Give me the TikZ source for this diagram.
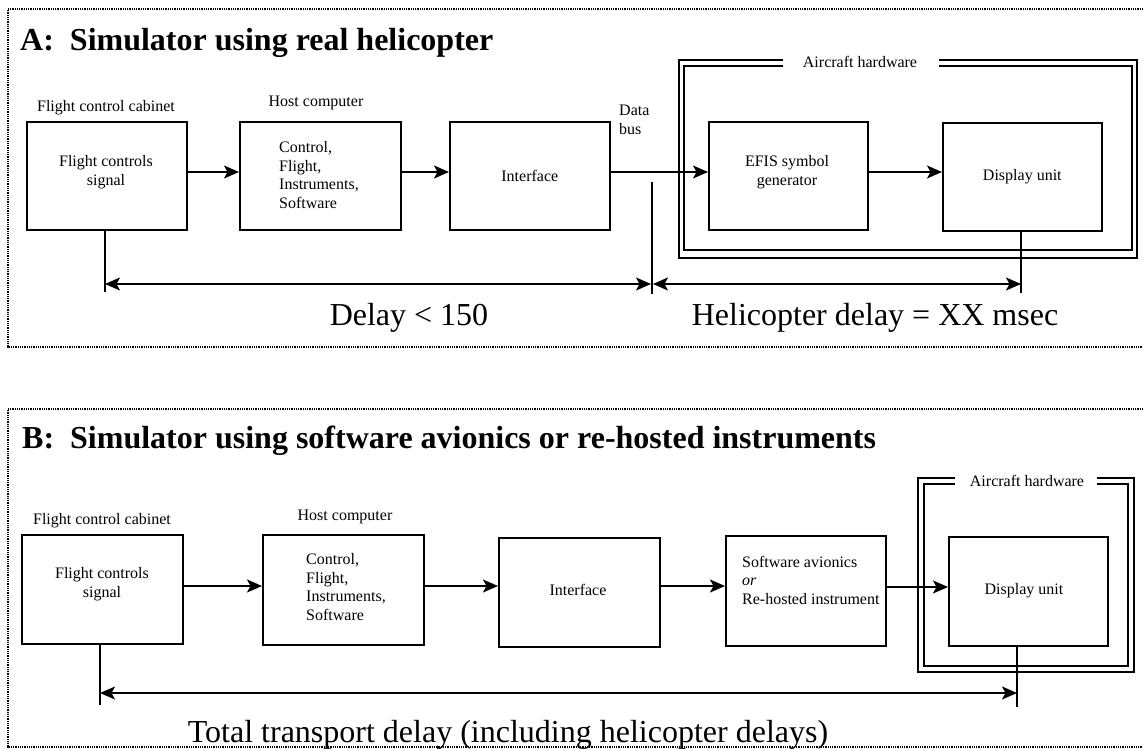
\documentclass[tikz,border=0pt]{standalone}
\usepackage{fontspec}
\setmainfont{Liberation Serif}
\usetikzlibrary{arrows.meta}
\begin{document}
\begin{tikzpicture}[x=1pt,y=-1pt,
  blk/.style={draw,line width=1.6pt,rectangle,inner sep=0pt,anchor=north west},
  lbl/.style={font=\fontsize{16}{18.5}\selectfont,inner sep=0pt},
  title/.style={font=\fontsize{32}{36}\selectfont\bfseries,inner sep=0pt,anchor=base west},
  big/.style={font=\fontsize{32}{36}\selectfont,inner sep=0pt,anchor=base},
  conn/.style={line width=1.5pt,-{Stealth[length=15pt,width=13pt,inset=3.5pt]}},
  dim/.style={line width=1.5pt,{Stealth[length=15pt,width=13pt,inset=3.5pt]}-{Stealth[length=15pt,width=13pt,inset=3.5pt]}},
  tick/.style={line width=1.3pt},
  frame/.style={line width=1.6pt},
  border/.style={line width=1.5pt,dash pattern=on 1pt off 0.8pt}
]
\useasboundingbox (0,0) rectangle (1143,749);

% ---------------- Panel A ----------------
\draw[border] (1143,9) -- (8,9) -- (8,347) -- (1143,347);
\node[title] (tA) at (20,51) {A:\ \ Simulator using real helicopter};

\node[blk,minimum width=160pt,minimum height=108pt] (fA) at (26,121) {};
\node[lbl] (fAt) at (106,108) {Flight control cabinet};
\node[lbl,align=center] (fAi) at (106,172) {Flight controls\\signal};

\node[blk,minimum width=161pt,minimum height=108pt] (hA) at (239,121) {};
\node[lbl] (hAt) at (316,103) {Host computer};
\node[lbl,align=left,anchor=west] (hAi) at (279,175) {Control,\\Flight,\\Instruments,\\Software};

\node[blk,minimum width=160pt,minimum height=108pt] (iA) at (449,121) {};
\node[lbl] (iAi) at (iA.center) {Interface};
\node[lbl,align=left,anchor=north west] (dbA) at (619,105) {Data\\bus};

\node[blk,minimum width=159pt,minimum height=108pt] (eA) at (708,121) {};
\node[lbl,align=center] (eAi) at (787,172) {EFIS symbol\\generator};

\node[blk,minimum width=159pt,minimum height=108pt] (dA) at (942,122) {};
\node[lbl] (dAi) at (dA.center) {Display unit};

% aircraft hardware frame A
\draw[frame] (783,60) -- (679,60) -- (679,258) -- (1137,258) -- (1137,60) -- (939,60);
\draw[frame] (783,66) -- (684,66) -- (684,250) -- (1132,250) -- (1132,66) -- (939,66);
\node[lbl] (ahA) at (860,62) {Aircraft hardware};

\draw[conn] (fA.east |- 0,172) -- (hA.west |- 0,172);
\draw[conn] (hA.east |- 0,172) -- (iA.west |- 0,172);
\draw[conn] (iA.east |- 0,172) -- (eA.west |- 0,172);
\draw[conn] (eA.east |- 0,172) -- (dA.west |- 0,172);

\coordinate (a1) at (105,292);
\coordinate (a2t) at (652,182);
\coordinate (a2) at (652,294);
\coordinate (a3) at (1021,293);
\draw[tick] (fA.south -| a1) -- (a1);
\draw[tick] (a2t) -- (a2);
\draw[tick] (dA.south -| a3) -- (a3);
\draw[dim] (105,284) -- (651,284);
\draw[dim] (653,284) -- (1021,284);

\node[big] (dl) at (409,325) {Delay < 150};
\node[big] (hd) at (875,325) {Helicopter delay = XX msec};

% ---------------- Panel B ----------------
\draw[border] (1143,409) -- (8,409) -- (8,747) -- (1143,747);
\node[title] (tB) at (22,448) {B:\ \ Simulator using software avionics or re-hosted instruments};

\node[blk,minimum width=161pt,minimum height=109pt] (fB) at (21,534) {};
\node[lbl] (fBt) at (102,521) {Flight control cabinet};
\node[lbl,align=center] (fBi) at (102,584) {Flight controls\\signal};

\node[blk,minimum width=161pt,minimum height=110pt] (hB) at (262,534) {};
\node[lbl] (hBt) at (345,517) {Host computer};
\node[lbl,align=left,anchor=west] (hBi) at (306,587) {Control,\\Flight,\\Instruments,\\Software};

\node[blk,minimum width=161pt,minimum height=109pt] (iB) at (498,537) {};
\node[lbl] (iBi) at (578,590) {Interface};

\node[blk,minimum width=160pt,minimum height=110pt] (sB) at (725,535) {};
\node[lbl,align=left,anchor=west] (sBi) at (742,580) {Software avionics\\\textit{or}\\Re-hosted instrument};

\node[blk,minimum width=159pt,minimum height=109pt] (dB) at (948,536) {};
\node[lbl] (dBi) at (1024,591) {Display unit};

% aircraft hardware frame B
\draw[frame] (955,478) -- (918,478) -- (918,672) -- (1134,672) -- (1134,478) -- (1097,478);
\draw[frame] (955,484) -- (924,484) -- (924,666) -- (1128,666) -- (1128,484) -- (1097,484);
\node[lbl] (ahB) at (1027,481) {Aircraft hardware};

\draw[conn] (fB.east |- 0,586) -- (hB.west |- 0,586);
\draw[conn] (hB.east |- 0,586) -- (iB.west |- 0,586);
\draw[conn] (iB.east |- 0,586) -- (sB.west |- 0,586);
\draw[conn] (sB.east |- 0,587) -- (dB.west |- 0,587);

\coordinate (b1) at (100,705);
\coordinate (b2) at (1017,707);
\draw[tick] (fB.south -| b1) -- (b1);
\draw[tick] (dB.south -| b2) -- (b2);
\draw[dim] (100,693) -- (1017,693);

\node[big] (td) at (508,742) {Total transport delay (including helicopter delays)};
\end{tikzpicture}
\end{document}
